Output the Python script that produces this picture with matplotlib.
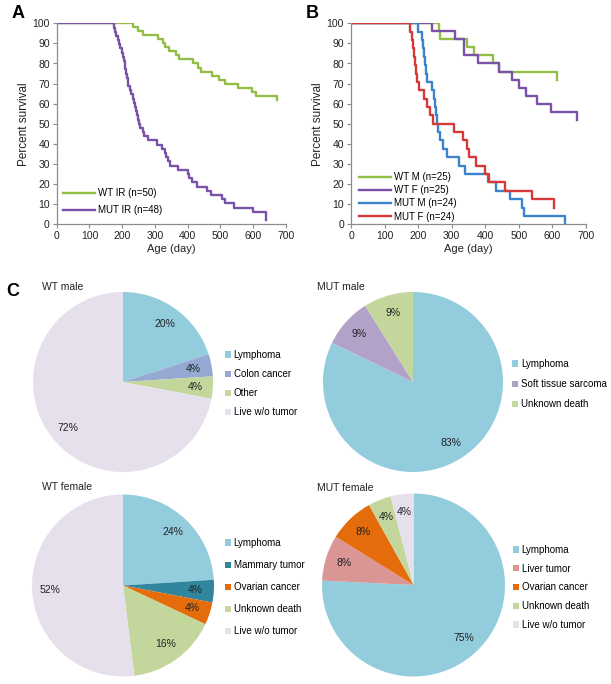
import matplotlib
matplotlib.use("Agg")
import matplotlib.pyplot as plt
from matplotlib.patches import Patch

plt.rcParams['font.family'] = ['Liberation Sans', 'DejaVu Sans']

W, H = 611, 684

# ---------------- Panel A data ----------------
a_wt_t = [0, 234, 248, 264, 310, 325, 332, 343, 364, 374, 417, 432, 440, 473, 496, 514, 554, 595, 608, 671]
a_wt_s = [100, 98, 96, 94, 92, 90, 88, 86, 84, 82, 80, 78, 76, 74, 72, 70, 68, 66, 64, 62]

a_mut_t = [0, 175, 178, 182, 186, 190, 194, 198, 201, 204, 207, 209, 212, 215, 217, 219,
           223, 228, 232, 236, 239, 243, 246, 249, 252, 255, 262, 268, 280, 305, 320,
           330, 335, 340, 345, 370, 400, 405, 412, 428, 460, 472, 505, 515, 540, 600, 638]
a_mut_s = [100, 97.9, 95.8, 93.8, 91.7, 89.6, 87.5, 85.4, 83.3, 81.3, 79.2, 77.1, 75.0, 72.9,
           70.8, 68.8, 66.7, 64.6, 62.5, 60.4, 58.3, 56.3, 54.2, 52.1, 50.0, 47.9, 45.8,
           43.8, 41.7, 39.6, 37.5, 35.4, 33.3, 31.3, 29.2, 27.1, 25.0, 22.9, 20.8, 18.8,
           16.7, 14.6, 12.5, 10.4, 8.3, 6.3, 2.1]

# ---------------- Panel B data ----------------
b_wtm_t = [0, 262, 264, 345, 365, 422, 442, 613]
b_wtm_s = [100, 96, 92, 88, 84, 80, 76, 72]

b_wtf_t = [0, 240, 310, 336, 338, 377, 442, 479, 500, 521, 555, 596, 672]
b_wtf_s = [100, 96, 92, 88, 84, 80, 76, 72, 68, 64, 60, 56, 52]

b_mutm_t = [0, 200, 210, 215, 218, 221, 224, 226, 240, 246, 250, 253, 256, 259, 265, 273,
            285, 322, 340, 408, 432, 475, 508, 515, 638]
b_mutm_s = [100, 95.8, 91.7, 87.5, 83.3, 79.2, 75.0, 70.8, 66.7, 62.5, 58.3, 54.2, 50.0,
            45.8, 41.7, 37.5, 33.3, 29.2, 25.0, 20.8, 16.7, 12.5, 8.3, 4.2, 0]

b_mutf_t = [0, 176, 181, 185, 188, 191, 194, 198, 203, 218, 226, 234, 243, 307, 335, 345,
            352, 372, 398, 410, 459, 538, 606]
b_mutf_s = [100, 95.8, 91.7, 87.5, 83.3, 79.2, 75.0, 70.8, 66.7, 62.5, 58.3, 54.2, 50.0,
            45.8, 41.7, 37.5, 33.3, 29.2, 25.0, 20.8, 16.7, 12.5, 8.3]

# ---------------- Panel C data ----------------
wtm_labels = ["Lymphoma", "Colon cancer", "Other", "Live w/o tumor"]
wtm_values = [20, 4, 4, 72]
wtm_pct = ["20%", "4%", "4%", "72%"]

mutm_labels = ["Lymphoma", "Soft tissue sarcoma", "Unknown death"]
mutm_values = [83, 9, 9]
mutm_pct = ["83%", "9%", "9%"]

wtf_labels = ["Lymphoma", "Mammary tumor", "Ovarian cancer", "Unknown death", "Live w/o tumor"]
wtf_values = [24, 4, 4, 16, 52]
wtf_pct = ["24%", "4%", "4%", "16%", "52%"]

mutf_labels = ["Lymphoma", "Liver tumor", "Ovarian cancer", "Unknown death", "Live w/o tumor"]
mutf_values = [75, 8, 8, 4, 4]
mutf_pct = ["75%", "8%", "8%", "4%", "4%"]

GREEN = "#92BE45"
PURPLE = "#7A52A8"
BLUE = "#3B84CC"
RED = "#D43A3A"

C_LYM = "#93CDDD"
C_COLON = "#95A9D2"
C_OTHER = "#C3D69B"
C_LIVE = "#E6E0EC"
C_SARC = "#B3A2C7"
C_MAMM = "#31859C"
C_OVAR = "#E46C0A"
C_LIVER = "#D99694"

fig = plt.figure(figsize=(W / 100, H / 100), dpi=100)


def px_axes(x0, x1, y0, y1):
    return fig.add_axes([x0 / W, 1 - y1 / H, (x1 - x0) / W, (y1 - y0) / H])


def style_km(ax):
    ax.set_xlim(0, 700)
    ax.set_ylim(0, 100)
    ax.set_xticks(range(0, 701, 100))
    ax.set_yticks(range(0, 101, 10))
    for s in ["top", "right"]:
        ax.spines[s].set_visible(False)
    for s in ["left", "bottom"]:
        ax.spines[s].set_color("#8C8C8C")
        ax.spines[s].set_linewidth(0.9)
    ax.tick_params(axis="both", labelsize=7.5, colors="#8C8C8C", labelcolor="#222222",
                   length=3, width=0.8, pad=2)
    ax.set_xlabel("Age (day)", fontsize=8, color="#222222", labelpad=2)
    ax.set_ylabel("Percent survival", fontsize=8.5, color="#222222", labelpad=2)


def km_legend(ax, x, y, spacing):
    ax.legend(loc="upper left", bbox_to_anchor=(x / W, 1 - y / H),
              bbox_transform=fig.transFigure, frameon=False, fontsize=7.0,
              handlelength=3.3, handletextpad=0.3, labelspacing=spacing,
              borderaxespad=0, borderpad=0)


# Panel A
axA = px_axes(56.7, 286, 23.3, 224.3)
axA.step(a_wt_t, a_wt_s, where="post", color=GREEN, lw=1.7, label="WT IR (n=50)")
axA.step(a_mut_t, a_mut_s, where="post", color=PURPLE, lw=1.7, label="MUT IR (n=48)")
style_km(axA)
km_legend(axA, 63, 188, 0.75)

# Panel B
axB = px_axes(351, 586, 23.3, 224.3)
axB.step(b_wtm_t, b_wtm_s, where="post", color=GREEN, lw=1.7, label="WT M (n=25)")
axB.step(b_wtf_t, b_wtf_s, where="post", color=PURPLE, lw=1.7, label="WT F (n=25)")
axB.step(b_mutm_t, b_mutm_s, where="post", color=BLUE, lw=1.7, label="MUT M (n=24)")
axB.step(b_mutf_t, b_mutf_s, where="post", color=RED, lw=1.7, label="MUT F (n=24)")
style_km(axB)
km_legend(axB, 359, 172, 0.33)

fig.text(12 / W, 1 - 13 / H, "A", fontsize=13, fontweight="bold", va="center", ha="left")
fig.text(306 / W, 1 - 13 / H, "B", fontsize=13, fontweight="bold", va="center", ha="left")
fig.text(6 / W, 1 - 292 / H, "C", fontsize=13, fontweight="bold", va="center", ha="left")


def pie_panel(cx, cy, r, values, pcts, labels, colors, title, tx, ty, lx, ly, lspacing):
    ax = px_axes(cx - r, cx + r, cy - r, cy + r)
    it = iter(pcts)
    ax.pie(values, colors=colors, startangle=90, counterclock=False,
           autopct=lambda p: next(it), pctdistance=0.8,
           textprops=dict(fontsize=7.5, color="#222222"),
           wedgeprops=dict(linewidth=0))
    ax.set_xlim(-1, 1)
    ax.set_ylim(-1, 1)
    ax.set_aspect("equal")
    fig.text(tx / W, 1 - ty / H, title, fontsize=7.5, color="#222222", va="center", ha="left")
    handles = [Patch(facecolor=c, edgecolor="none") for c in colors]
    fig.legend(handles, labels, loc="upper left",
               bbox_to_anchor=(lx / W, 1 - ly / H), bbox_transform=fig.transFigure,
               frameon=False, fontsize=7.0, handlelength=0.6, handleheight=0.6,
               handletextpad=0.3, labelspacing=lspacing, borderaxespad=0, borderpad=0)


pie_panel(123, 382, 90, wtm_values, wtm_pct, wtm_labels,
          [C_LYM, C_COLON, C_OTHER, C_LIVE], "WT male", 42, 287, 225, 350, 0.93)
pie_panel(413, 382, 90, mutm_values, mutm_pct, mutm_labels,
          [C_LYM, C_SARC, C_OTHER], "MUT male", 317, 287, 512, 359, 1.03)
pie_panel(123, 585.5, 91, wtf_values, wtf_pct, wtf_labels,
          [C_LYM, C_MAMM, C_OVAR, C_OTHER, C_LIVE], "WT female", 42, 487, 225, 538, 1.24)
pie_panel(413.5, 585, 91.5, mutf_values, mutf_pct, mutf_labels,
          [C_LYM, C_LIVER, C_OVAR, C_OTHER, C_LIVE], "MUT female", 317, 488, 513, 545, 0.9)

fig.savefig("out.png", dpi=100)
